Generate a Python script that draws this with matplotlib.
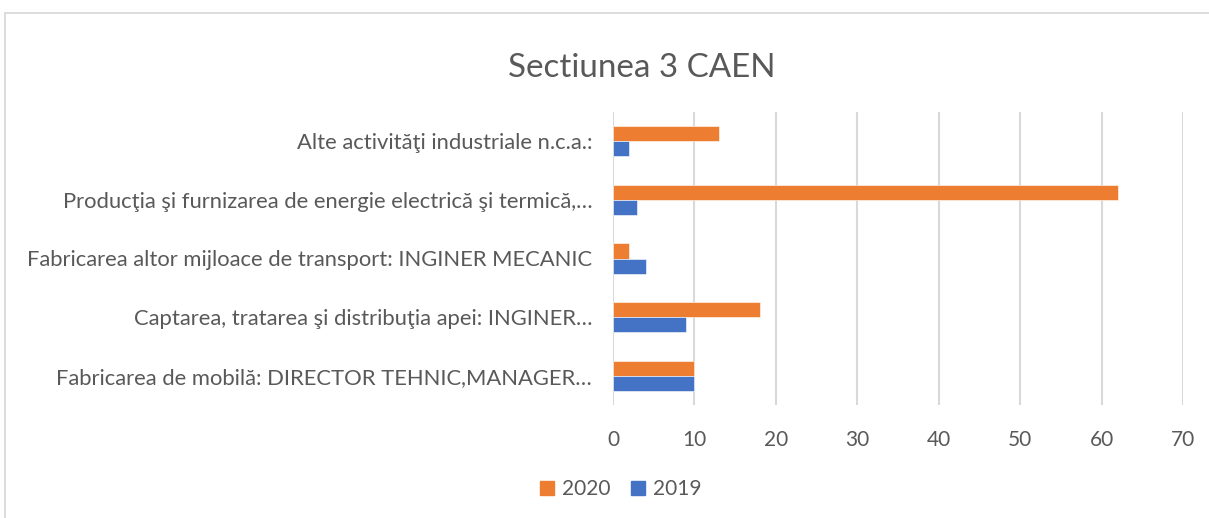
import matplotlib
matplotlib.use("Agg")
import matplotlib.pyplot as plt
import numpy as np
from matplotlib.patches import Rectangle
from matplotlib.lines import Line2D

plt.rcParams['font.family'] = ['Lato', 'DejaVu Sans']

categories = [
    "Fabricarea de mobilă: DIRECTOR TEHNIC,MANAGER…",
    "Captarea, tratarea şi distribuţia apei: INGINER…",
    "Fabricarea altor mijloace de transport: INGINER MECANIC",
    "Producţia şi furnizarea de energie electrică şi termică,…",
    "Alte activităţi industriale n.c.a.:",
]
values_2020 = [10, 18, 2, 62, 13]
values_2019 = [10, 9, 4, 3, 2]
series_labels = ["2020", "2019"]
x_ticks = [0, 10, 20, 30, 40, 50, 60, 70]
title = "Sectiunea 3 CAEN"

ORANGE = "#ED7D31"
BLUE = "#4472C4"
TXT = "#595959"
GRID = "#D9D9D9"

W, H = 1209, 518
fig = plt.figure(figsize=(W / 100, H / 100), dpi=100)

# outer chart border (cropped)
fig.add_artist(Line2D([5 / W, 5 / W], [0, 1 - 13 / H], color=GRID, lw=1.3, transform=fig.transFigure))
fig.add_artist(Line2D([5 / W, 1], [1 - 13 / H, 1 - 13 / H], color=GRID, lw=1.3, transform=fig.transFigure))

left, right = 613 / W, 1183 / W
top, bottom = 1 - 112 / H, 1 - 405 / H
ax = fig.add_axes([left, bottom, right - left, top - bottom])

y = np.arange(len(categories))
h = 0.256
ax.barh(y + h / 2, values_2020, height=h, color=ORANGE, label=series_labels[0], zorder=3,
        edgecolor="white", linewidth=0.4)
ax.barh(y - h / 2, values_2019, height=h, color=BLUE, label=series_labels[1], zorder=3,
        edgecolor="white", linewidth=0.4)

ax.set_xlim(0, 70)
ax.set_ylim(-0.5, len(categories) - 0.5)
ax.set_xticks(x_ticks)
ax.set_xticklabels([str(t) for t in x_ticks], fontsize=15, color=TXT)
ax.set_yticks(y)
ax.set_yticklabels(categories, fontsize=15.8, color=TXT)
ax.tick_params(axis='x', length=0, pad=18)
ax.tick_params(axis='y', length=0, pad=15)
ax.grid(axis='x', color=GRID, lw=1.5, zorder=0)
for s in ax.spines.values():
    s.set_visible(False)

fig.text(642 / W, 1 - 68 / H, title, ha='center', va='center', fontsize=23.9, color=TXT)

handles = [Rectangle((0, 0), 1, 1, color=ORANGE), Rectangle((0, 0), 1, 1, color=BLUE)]
fig.legend(handles, series_labels, loc='center', bbox_to_anchor=(621 / W, 1 - 489 / H),
           ncol=2, frameon=False, fontsize=15, labelcolor=TXT,
           handlelength=0.65, handleheight=0.65, handletextpad=0.4, columnspacing=1.0)

fig.savefig("out.png", dpi=100, facecolor="white")
